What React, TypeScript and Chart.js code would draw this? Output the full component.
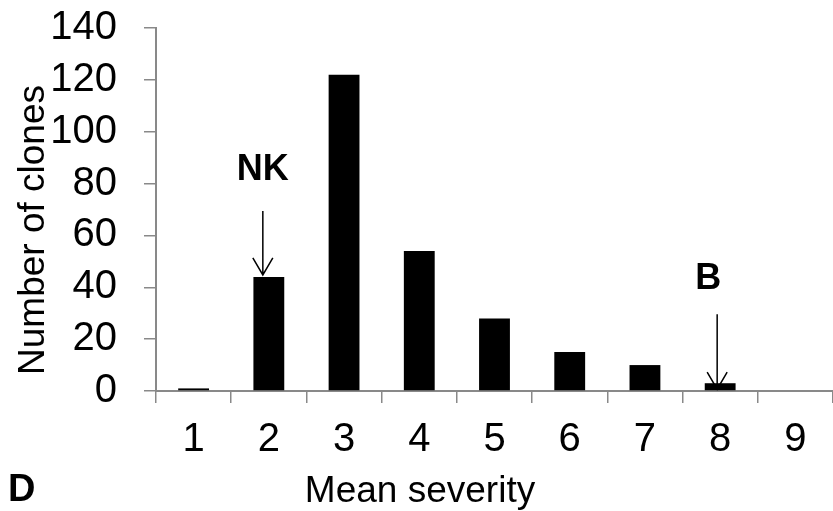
import React, { useEffect, useRef } from "react";
import { Chart, registerables } from "chart.js";

Chart.register(...registerables);

const categories = ["1", "2", "3", "4", "5", "6", "7", "8", "9"];
const cloneCounts = [1, 44, 122, 54, 28, 15, 10, 3, 0];
const yTicks = [0, 20, 40, 60, 80, 100, 120, 140];
const annotations = [
  { label: "NK", category: 1, value: 44 },
  { label: "B", category: 7, value: 3 },
];

const FONT = "'Liberation Sans', Arial, sans-serif";
const AXIS_GRAY = "#898989";

export default function App() {
  const ref = useRef<HTMLCanvasElement | null>(null);

  useEffect(() => {
    if (!ref.current) return;
    const overlay = {
      id: "overlay",
      afterDraw(chart: any) {
        const ctx = chart.ctx;
        const xs = chart.scales.x;
        const ys = chart.scales.y;
        ctx.save();
        ctx.fillStyle = "#000";
        // axis titles
        ctx.font = `37px ${FONT}`;
        ctx.textAlign = "center";
        ctx.textBaseline = "alphabetic";
        ctx.fillText("Mean severity", 420, 502);
        ctx.save();
        ctx.translate(34, 230);
        ctx.rotate(-Math.PI / 2);
        ctx.textBaseline = "middle";
        ctx.fillText("Number of clones", 0, 0);
        ctx.restore();
        // panel letter
        ctx.font = `bold 38px ${FONT}`;
        ctx.textAlign = "left";
        ctx.textBaseline = "middle";
        ctx.fillText("D", 8, 491);
        // arrows + labels
        ctx.strokeStyle = "#000";
        ctx.lineWidth = 1.5;
        annotations.forEach((a, i) => {
          const cx = xs.getPixelForValue(a.category) - (i === 0 ? 6 : 3);
          const tipY = ys.getPixelForValue(a.value) + (i === 0 ? -2 : 6);
          const startY = tipY - (i === 0 ? 64 : 75);
          ctx.beginPath();
          ctx.moveTo(cx, startY);
          ctx.lineTo(cx, tipY);
          ctx.moveTo(cx - 10, tipY - 17);
          ctx.lineTo(cx, tipY);
          ctx.lineTo(cx + 10, tipY - 17);
          ctx.stroke();
          ctx.font = `bold 36px ${FONT}`;
          ctx.textAlign = "center";
          ctx.textBaseline = "middle";
          ctx.fillText(a.label, cx - (i === 0 ? 0 : 9), startY - (i === 0 ? 41 : 35));
        });
        ctx.restore();
      },
    };
    const chart = new Chart(ref.current, {
      type: "bar",
      data: {
        labels: categories,
        datasets: [
          {
            data: cloneCounts,
            backgroundColor: "#000",
            borderWidth: 0,
            categoryPercentage: 1,
            barPercentage: 0.41,
          },
        ],
      },
      options: {
        animation: false,
        responsive: false,
        layout: { padding: { top: 28, left: 0, right: 0, bottom: 0 } },
        plugins: { legend: { display: false }, tooltip: { enabled: false } },
        scales: {
          x: {
            offset: true,
            grid: {
              offset: true,
              drawOnChartArea: false,
              drawTicks: true,
              tickLength: 12,
              color: AXIS_GRAY,
              lineWidth: 1.5,
            },
            border: { color: AXIS_GRAY, width: 2 },
            ticks: {
              color: "#000",
              font: { family: FONT, size: 40 },
              padding: 13,
              autoSkip: false,
              maxRotation: 0,
            },
            afterFit(scale: any) {
              scale.height = 120;
              scale.paddingLeft = 0;
              scale.paddingRight = 0;
            },
          },
          y: {
            min: 0,
            max: 140,
            afterBuildTicks(scale: any) {
              scale.ticks = yTicks.map((v) => ({ value: v }));
            },
            grid: {
              drawOnChartArea: false,
              drawTicks: true,
              tickLength: 12,
              color: AXIS_GRAY,
              lineWidth: 1.5,
            },
            border: { color: AXIS_GRAY, width: 2 },
            ticks: {
              color: "#000",
              font: { family: FONT, size: 40 },
              padding: 27,
              autoSkip: false,
            },
            afterFit(scale: any) {
              scale.width = 156;
              scale.paddingTop = 0;
              scale.paddingBottom = 0;
            },
          },
        },
      },
      plugins: [overlay],
    });
    return () => chart.destroy();
  }, []);

  return (
    <div style={{ position: "absolute", left: 0, top: 0, width: 833, height: 511, background: "#fff" }}>
      <canvas ref={ref} width={833} height={511} style={{ width: 833, height: 511 }} />
    </div>
  );
}
